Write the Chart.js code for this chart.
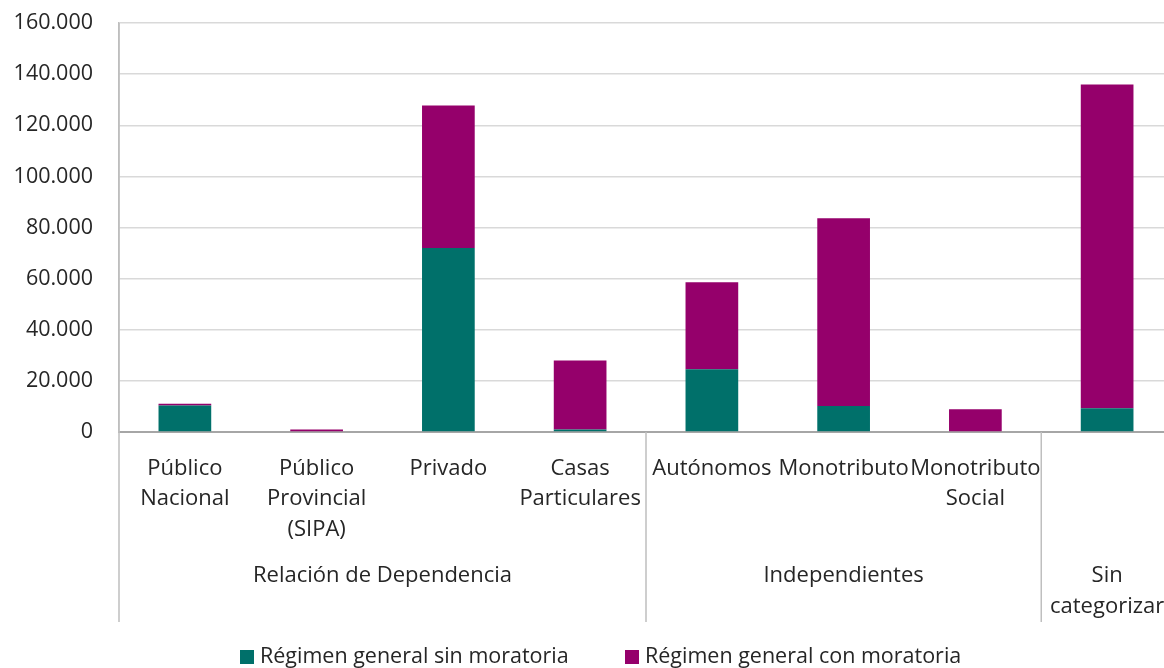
<!DOCTYPE html>
<html>
<head>
<meta charset="utf-8">
<script src="https://cdn.jsdelivr.net/npm/chart.js@4/dist/chart.umd.min.js"></script>
<style>
  html, body { margin: 0; padding: 0; background: #ffffff; overflow: hidden; }
  #wrap { width: 1164px; height: 668px; overflow: hidden; position: relative; }
  canvas { display: block; }
</style>
</head>
<body>
<div id="wrap"><canvas id="c" width="1180" height="668"></canvas></div>
<script>
// ---- Data ----
const categories = [
  ['Público', 'Nacional'],
  ['Público', 'Provincial', '(SIPA)'],
  ['Privado'],
  ['Casas', 'Particulares'],
  ['Autónomos'],
  ['Monotributo'],
  ['Monotributo', 'Social'],
  ['']
];
const groupLabels = [['Relación de Dependencia'], ['Independientes'], ['Sin', 'categorizar']];
const groupStart = [0, 4, 7];
const groupEnd = [3, 6, 7];

const seriesNames = ['Régimen general sin moratoria', 'Régimen general con moratoria'];
const sinMoratoria = [10400, 0, 72000, 1000, 24500, 10200, 0, 9300];
const conMoratoria = [700, 1000, 55700, 27000, 34100, 73400, 8900, 126600];

const yMin = 0, yMax = 160000, yStep = 20000;

const colors = ['#00706A', '#95006B'];
const FONT = '"Open Sans", sans-serif';
const FS = 21.5;
const FSX = 22;
const TXT = '#262626';

function fmt(v) { return String(v).replace(/\B(?=(\d{3})+(?!\d))/g, '.'); }

const extrasPlugin = {
  id: 'extras',
  afterDraw(chart) {
    const ctx = chart.ctx;
    const x = chart.scales.x;
    const area = chart.chartArea;
    const bottomLine = 622;
    ctx.save();
    ctx.strokeStyle = '#bfbfbf';
    ctx.lineWidth = 1.5;
    const seps = [area.left];
    for (let g = 1; g < groupStart.length; g++) {
      seps.push((x.getPixelForValue(groupStart[g] - 1) + x.getPixelForValue(groupStart[g])) / 2);
    }
    ctx.beginPath();
    ctx.moveTo(area.left, area.top);
    ctx.lineTo(area.left, bottomLine);
    for (let i = 1; i < seps.length; i++) {
      ctx.moveTo(seps[i], area.bottom);
      ctx.lineTo(seps[i], bottomLine);
    }
    ctx.stroke();
    ctx.fillStyle = TXT;
    ctx.font = FSX + 'px ' + FONT;
    ctx.textAlign = 'center';
    ctx.textBaseline = 'middle';
    for (let g = 0; g < groupLabels.length; g++) {
      const l = (groupStart[g] === 0) ? area.left :
        (x.getPixelForValue(groupStart[g] - 1) + x.getPixelForValue(groupStart[g])) / 2;
      const r = (groupEnd[g] === categories.length - 1) ? area.right :
        (x.getPixelForValue(groupEnd[g]) + x.getPixelForValue(groupEnd[g] + 1)) / 2;
      const cx = (l + r) / 2;
      groupLabels[g].forEach((t, i) => ctx.fillText(t, cx, 576 + i * 31));
    }
    const legendX = [240, 625];
    ctx.font = FS + 'px ' + FONT;
    ctx.textAlign = 'left';
    for (let i = 0; i < seriesNames.length; i++) {
      ctx.fillStyle = chart.data.datasets[i].backgroundColor;
      ctx.fillRect(legendX[i], 650, 14, 14);
      ctx.fillStyle = TXT;
      ctx.fillText(seriesNames[i], legendX[i] + 20, 657);
    }
    ctx.restore();
  }
};

function build() {
  new Chart(document.getElementById('c'), {
    type: 'bar',
    data: {
      labels: categories,
      datasets: [
        { label: seriesNames[0], data: sinMoratoria, backgroundColor: colors[0], barPercentage: 0.4, categoryPercentage: 1 },
        { label: seriesNames[1], data: conMoratoria, backgroundColor: colors[1], barPercentage: 0.4, categoryPercentage: 1 }
      ]
    },
    options: {
      responsive: false,
      animation: false,
      layout: { padding: { top: 23, right: 7, left: 0, bottom: 0 } },
      plugins: { legend: { display: false }, tooltip: { enabled: false } },
      scales: {
        x: {
          stacked: true,
          afterFit(scale) { scale.height = 236; },
          grid: { display: false },
          border: { display: true, color: '#a6a6a6', width: 2 },
          ticks: {
            autoSkip: false, maxRotation: 0, minRotation: 0,
            padding: 13,
            color: TXT,
            font: { family: FONT, size: FSX, lineHeight: 1.39 }
          }
        },
        y: {
          stacked: true,
          min: yMin, max: yMax,
          afterFit(scale) { scale.width = 119; },
          grid: { color: '#d9d9d9', lineWidth: 1.5, drawTicks: true, tickLength: 26, tickColor: 'rgba(0,0,0,0)' },
          border: { display: true, color: '#bfbfbf', width: 1.5 },
          ticks: {
            stepSize: yStep,
            padding: 0,
            color: TXT,
            font: { family: FONT, size: FS },
            callback: (v) => fmt(v)
          }
        }
      }
    },
    plugins: [extrasPlugin]
  });
}

if (document.fonts && document.fonts.load) {
  document.fonts.load(FS + 'px "Open Sans"').then(build, build);
} else { build(); }
</script>
</body>
</html>
